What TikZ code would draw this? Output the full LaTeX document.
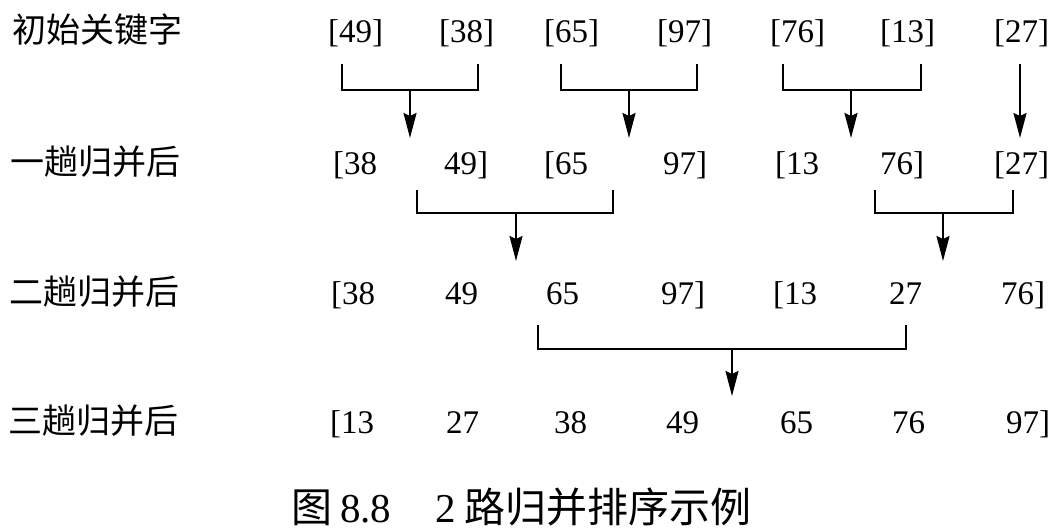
\documentclass[tikz,border=0pt]{standalone}
\usepackage{fontspec}
\setmainfont{Liberation Serif}
\newfontfamily\cjk{Noto Sans CJK SC}
\usetikzlibrary{arrows.meta}
\begin{document}
\begin{tikzpicture}[x=1pt,y=-1pt,
  num/.style={anchor=base west,inner sep=0pt,font=\fontsize{33}{37}\selectfont},
  lbl/.style={anchor=base west,inner sep=0pt,font=\fontsize{34}{38}\selectfont\cjk},
  brk/.style={line width=2pt},
  arr/.style={line width=2pt,-{Stealth[length=25pt,width=13pt,inset=3pt]}}]
\useasboundingbox (0,0) rectangle (1060,532);
% row labels
\node[lbl] (l1) at (12,43) {初始关键字};
\node[lbl] (l2) at (10,175) {一趟归并后};
\node[lbl] (l3) at (9,304) {二趟归并后};
\node[lbl] (l4) at (8,433) {三趟归并后};
% row 1
\node[num] (r1a) at (328,43) {[49]};
\node[num] (r1b) at (439,43) {[38]};
\node[num] (r1c) at (544,43) {[65]};
\node[num] (r1d) at (657,43) {[97]};
\node[num] (r1e) at (770,43) {[76]};
\node[num] (r1f) at (880,43) {[13]};
\node[num] (r1g) at (994,43) {[27]};
% row 2
\node[num] (r2a) at (333,175) {[38};
\node[num] (r2b) at (444,175) {49]};
\node[num] (r2c) at (544,175) {[65};
\node[num] (r2d) at (663,175) {97]};
\node[num] (r2e) at (775,175) {[13};
\node[num] (r2f) at (880,175) {76]};
\node[num] (r2g) at (994,175) {[27]};
% row 3
\node[num] (r3a) at (331,304) {[38};
\node[num] (r3b) at (445,304) {49};
\node[num] (r3c) at (546,304) {65};
\node[num] (r3d) at (661,304) {97]};
\node[num] (r3e) at (773,304) {[13};
\node[num] (r3f) at (889,304) {27};
\node[num] (r3g) at (1001,304) {76]};
% row 4
\node[num] (r4a) at (330,433) {[13};
\node[num] (r4b) at (446,433) {27};
\node[num] (r4c) at (554,433) {38};
\node[num] (r4d) at (666,433) {49};
\node[num] (r4e) at (780,433) {65};
\node[num] (r4f) at (892,433) {76};
\node[num] (r4g) at (1006,433) {97]};
% caption
\node[anchor=base west,inner sep=0pt,font=\fontsize{41}{45}\selectfont] (cap) at (291,522)
  {{\cjk 图}\hspace{8pt}8.8\hspace{44pt}2\hspace{9pt}{\cjk 路归并排序示例}};
% merge pass 1
\coordinate (a1) at (342,64);  \coordinate (b1) at (478,64);
\coordinate (m1) at (410,90);  \coordinate (t1) at (410,138);
\coordinate (a2) at (561,64);  \coordinate (b2) at (697,64);
\coordinate (m2) at (629,90);  \coordinate (t2) at (629,138);
\coordinate (a3) at (783,64);  \coordinate (b3) at (921,64);
\coordinate (m3) at (851,90);  \coordinate (t3) at (851,138);
\coordinate (a4) at (1020,64); \coordinate (t4) at (1020,138);
\draw[brk] (a1) |- (b1 |- m1) -- (b1);
\draw[arr] (m1) -- (t1);
\draw[brk] (a2) |- (b2 |- m2) -- (b2);
\draw[arr] (m2) -- (t2);
\draw[brk] (a3) |- (b3 |- m3) -- (b3);
\draw[arr] (m3) -- (t3);
\draw[arr] (a4) -- (t4);
% merge pass 2
\coordinate (a5) at (417,190); \coordinate (b5) at (613,190);
\coordinate (m5) at (516,213); \coordinate (t5) at (516,261);
\coordinate (a6) at (875,190); \coordinate (b6) at (1013,190);
\coordinate (m6) at (943,213); \coordinate (t6) at (943,261);
\draw[brk] (a5) |- (b5 |- m5) -- (b5);
\draw[arr] (m5) -- (t5);
\draw[brk] (a6) |- (b6 |- m6) -- (b6);
\draw[arr] (m6) -- (t6);
% merge pass 3
\coordinate (a7) at (538,325); \coordinate (b7) at (906,325);
\coordinate (m7) at (732,349); \coordinate (t7) at (732,396);
\draw[brk] (a7) |- (b7 |- m7) -- (b7);
\draw[arr] (m7) -- (t7);
\end{tikzpicture}
\end{document}
